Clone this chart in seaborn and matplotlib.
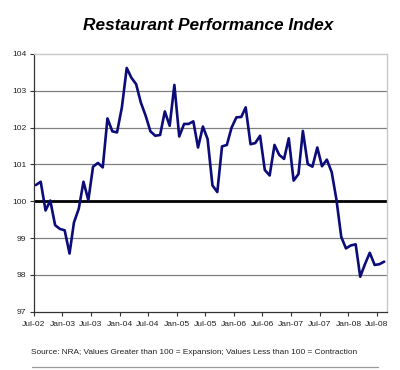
import numpy as np
import pandas as pd
import matplotlib
matplotlib.use("Agg")
import matplotlib.pyplot as plt
from matplotlib.lines import Line2D
import seaborn as sns

# Monthly Restaurant Performance Index, Jul-2002 .. Aug-2008
values = [
    100.44, 100.53, 99.75, 100.02, 99.35, 99.25,     # Jul-02 .. Dec-02
    99.21, 98.58, 99.42, 99.80, 100.53, 100.03,      # Jan-03 .. Jun-03
    100.94, 101.04, 100.92, 102.25, 101.90, 101.87,  # Jul-03 .. Dec-03
    102.55, 103.62, 103.36, 103.18, 102.68, 102.32,  # Jan-04 .. Jun-04
    101.90, 101.78, 101.80, 102.44, 102.05, 103.16,  # Jul-04 .. Dec-04
    101.76, 102.10, 102.10, 102.17, 101.46, 102.03,  # Jan-05 .. Jun-05
    101.69, 100.43, 100.25, 101.49, 101.53, 102.00,  # Jul-05 .. Dec-05
    102.28, 102.29, 102.55, 101.55, 101.58, 101.78,  # Jan-06 .. Jun-06
    100.85, 100.70, 101.53, 101.26, 101.15, 101.71,  # Jul-06 .. Dec-06
    100.56, 100.74, 101.91, 101.01, 100.94, 101.46,  # Jan-07 .. Jun-07
    100.95, 101.13, 100.79, 100.05, 99.03, 98.72,    # Jul-07 .. Dec-07
    98.80, 98.83, 97.95, 98.30, 98.60, 98.27,        # Jan-08 .. Jun-08
    98.29, 98.36,                                    # Jul-08 .. Aug-08
]

start_month = "2002-07-01"
tick_labels = ["Jul-02", "Jan-03", "Jul-03", "Jan-04", "Jul-04", "Jan-05", "Jul-05",
               "Jan-06", "Jul-06", "Jan-07", "Jul-07", "Jan-08", "Jul-08"]
y_ticks = [97, 98, 99, 100, 101, 102, 103, 104]
title = "Restaurant Performance Index"
source = "Source: NRA; Values Greater than 100 = Expansion; Values Less than 100 = Contraction"

months = pd.date_range(start_month, periods=len(values), freq="MS")
df = pd.DataFrame({"date": months + pd.Timedelta(days=15), "index": values})

sns.set_style("white")
plt.rcParams["font.family"] = ["Liberation Sans", "DejaVu Sans"]

fig = plt.figure(figsize=(4.0, 3.7), dpi=100)
ax = fig.add_axes([33.5 / 400, 1 - 311.7 / 370, (386.7 - 33.5) / 400, (311.7 - 54) / 370])

for yv in y_ticks[1:-1]:
    ax.axhline(yv, color="#808080", lw=0.9, zorder=1)
ax.axhline(100, color="black", lw=2.0, zorder=2)

sns.lineplot(data=df, x="date", y="index", ax=ax, color="#0b0b7a", lw=1.9, zorder=3)

ax.set_ylim(97, 104)
ax.set_xlim(pd.Timestamp("2002-07-01"), pd.Timestamp("2008-09-01"))
ax.set_yticks(y_ticks)
ax.set_yticklabels([str(v) for v in y_ticks])
tick_dates = pd.date_range(start_month, periods=len(tick_labels), freq="6MS")
ax.set_xticks(tick_dates)
ax.set_xticklabels(tick_labels)
ax.set_xlabel("")
ax.set_ylabel("")

ax.tick_params(axis="both", which="both", direction="out", length=3, width=0.8,
               color="#333333", labelsize=6.1, labelcolor="#222222", pad=2,
               bottom=True, left=True)
ax.tick_params(axis="x", pad=4)

for side in ["left", "bottom"]:
    ax.spines[side].set_color("#333333")
    ax.spines[side].set_linewidth(0.9)
for side in ["top", "right"]:
    ax.spines[side].set_visible(True)
    ax.spines[side].set_color("#c8c8c8")
    ax.spines[side].set_linewidth(1.0)

fig.text(208 / 400, 1 - 25 / 370, title, ha="center", va="center",
         fontsize=12.4, fontweight="bold", fontstyle="italic", color="black")
fig.text(194 / 400, 1 - 353 / 370, source, ha="center", va="center",
         fontsize=5.95, color="#222222")
fig.add_artist(Line2D([31.7 / 400, 378 / 400], [1 - 366.7 / 370] * 2,
                      transform=fig.transFigure, color="#999999", lw=0.9))

fig.savefig("out.png", dpi=100, facecolor="white")
